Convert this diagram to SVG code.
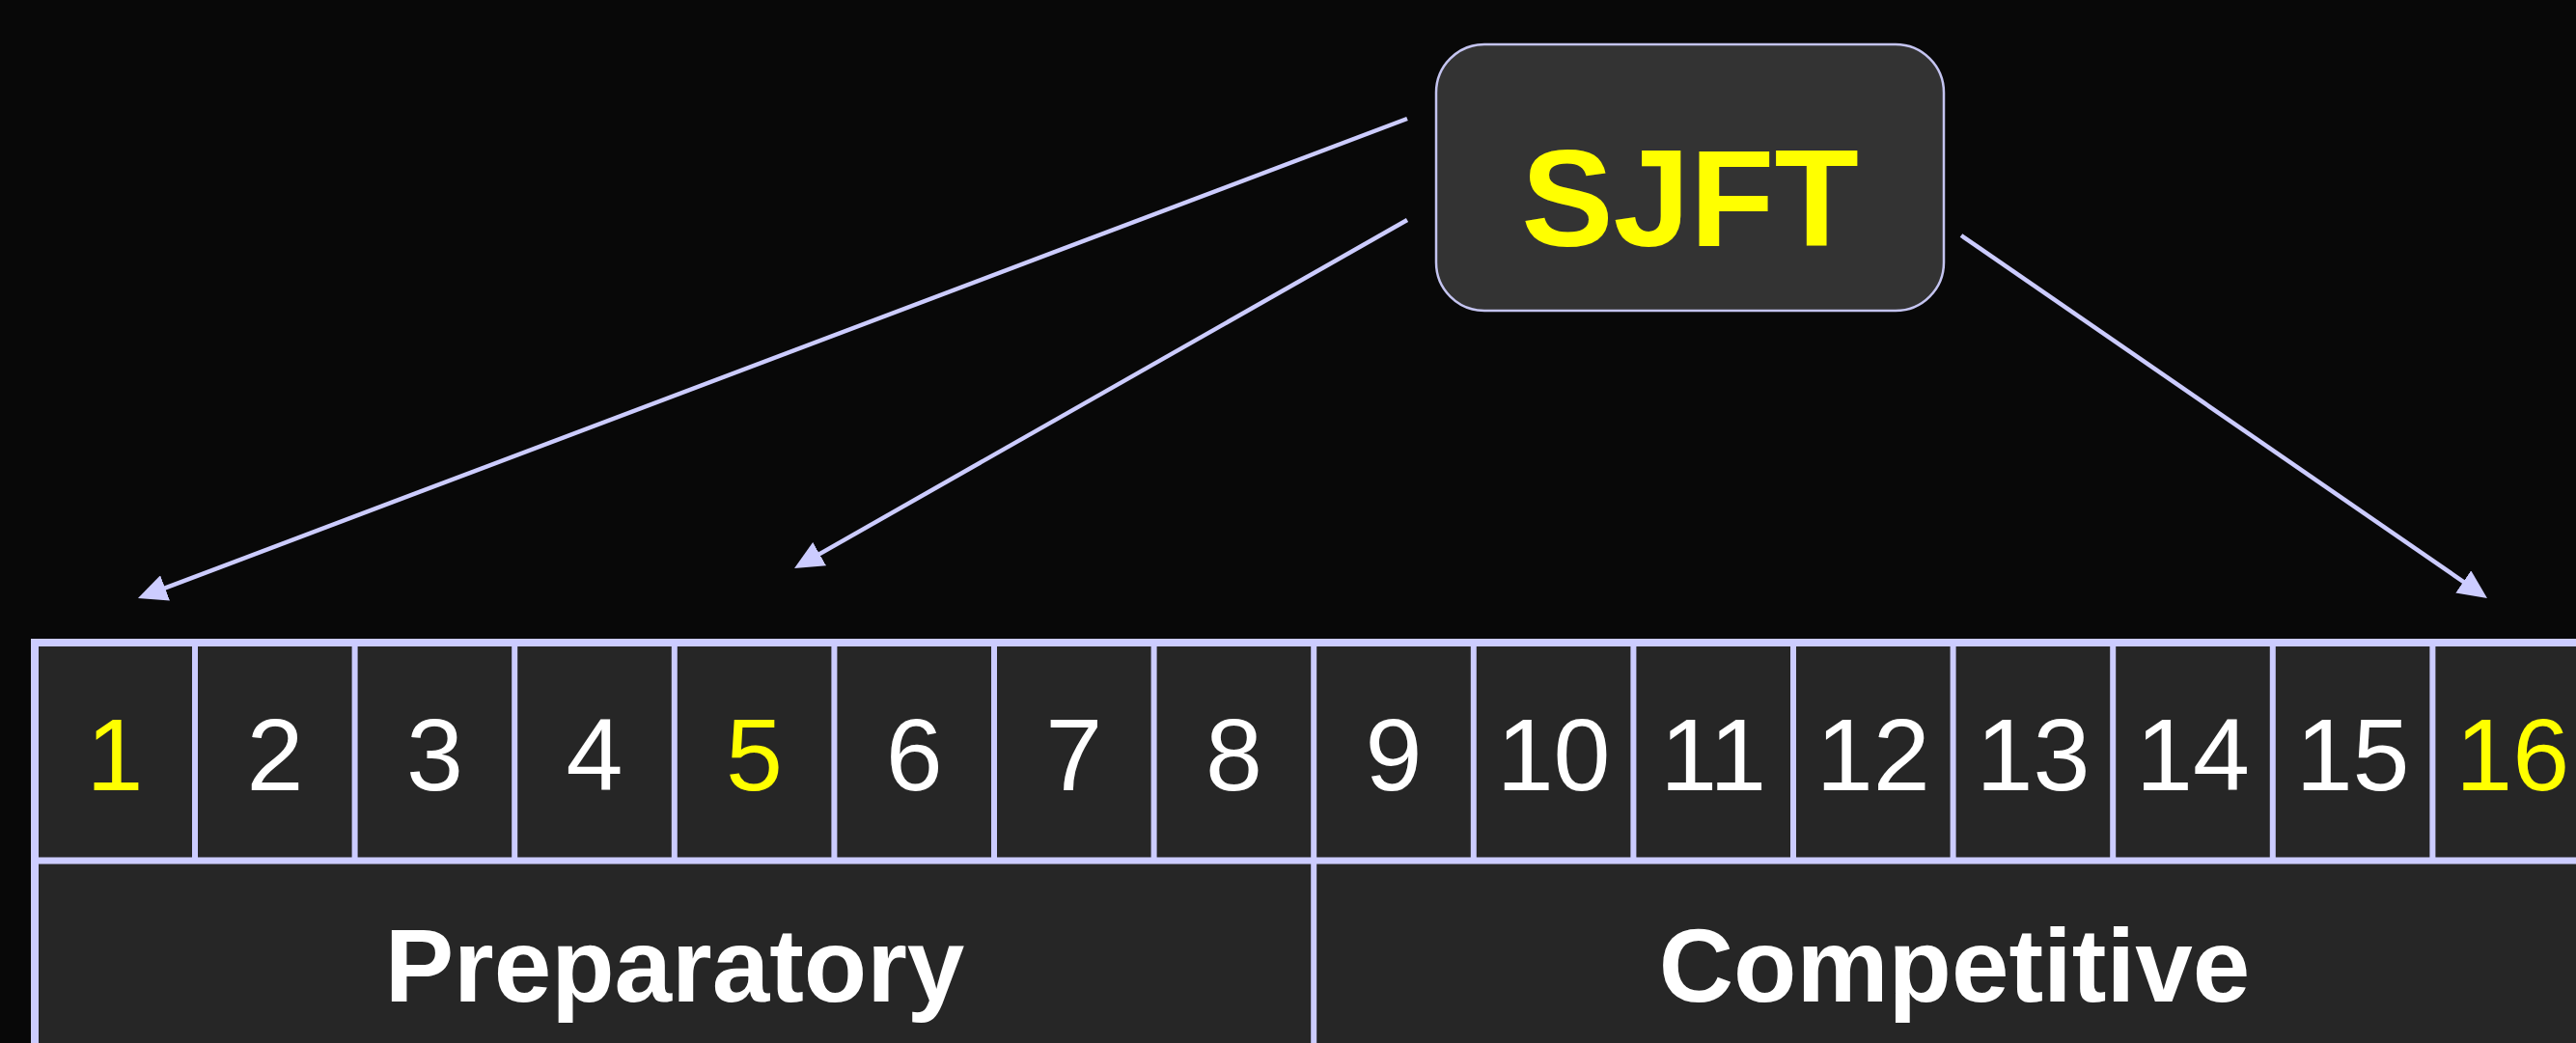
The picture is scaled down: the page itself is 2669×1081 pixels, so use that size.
<svg xmlns="http://www.w3.org/2000/svg" width="2669" height="1081" viewBox="0 0 2669 1081">
  <style>
    .num { font-family: "Liberation Sans", Arial, sans-serif; font-size: 106px; fill: #ffffff; text-anchor: middle; }
    .hl { fill: #ffff00; }
    .phase { font-family: "Liberation Sans", Arial, sans-serif; font-size: 107px; font-weight: bold; fill: #ffffff; text-anchor: middle; }
    .grid { stroke: #ccccff; fill: none; }
    .conn { stroke: #ccccff; stroke-width: 4.5; fill: none; marker-end: url(#arrow); }
  </style>
  <defs>
    <marker id="arrow" markerUnits="userSpaceOnUse" markerWidth="30" markerHeight="28" refX="9" refY="14" orient="auto">
      <path d="M0,0 L30,14 L0,28 z" fill="#ccccff"/>
    </marker>
  </defs>

  <rect x="0" y="0" width="2669" height="1081" fill="#080808"/>

  <!-- source node -->
  <g id="sjft">
    <rect x="1488" y="46" width="526" height="276" rx="50" ry="50" fill="#333333" stroke="#c4c4f0" stroke-width="2.5"/>
    <text x="1751" y="255" font-family="'Liberation Sans', Arial, sans-serif" font-size="143" font-weight="bold" fill="#ffff00" text-anchor="middle">SJFT</text>
  </g>

  <!-- microcycle table -->
  <g id="table">
    <rect x="32" y="662" width="2660" height="430" fill="#262626"/>
    <g class="grid">
      <line x1="32" y1="666" x2="2669" y2="666" stroke-width="8"/>
      <line x1="36" y1="662" x2="36" y2="1081" stroke-width="8"/>
      <line x1="32" y1="892" x2="2669" y2="892" stroke-width="7"/>
      <line x1="1361.2" y1="666" x2="1361.2" y2="1081" stroke-width="6"/>
      <g stroke-width="6">
        <line x1="202" y1="666" x2="202" y2="892"/>
        <line x1="367.6" y1="666" x2="367.6" y2="892"/>
        <line x1="533.2" y1="666" x2="533.2" y2="892"/>
        <line x1="698.8" y1="666" x2="698.8" y2="892"/>
        <line x1="864.4" y1="666" x2="864.4" y2="892"/>
        <line x1="1030" y1="666" x2="1030" y2="892"/>
        <line x1="1195.6" y1="666" x2="1195.6" y2="892"/>
        <line x1="1526.8" y1="666" x2="1526.8" y2="892"/>
        <line x1="1692.4" y1="666" x2="1692.4" y2="892"/>
        <line x1="1858" y1="666" x2="1858" y2="892"/>
        <line x1="2023.6" y1="666" x2="2023.6" y2="892"/>
        <line x1="2189.2" y1="666" x2="2189.2" y2="892"/>
        <line x1="2354.8" y1="666" x2="2354.8" y2="892"/>
        <line x1="2520.4" y1="666" x2="2520.4" y2="892"/>
      </g>
    </g>
    <g id="days">
      <text class="num hl" x="119" y="819">1</text>
      <text class="num" x="285" y="819">2</text>
      <text class="num" x="450.4" y="819">3</text>
      <text class="num" x="616" y="819">4</text>
      <text class="num hl" x="781.6" y="819">5</text>
      <text class="num" x="947.2" y="819">6</text>
      <text class="num" x="1112.8" y="819">7</text>
      <text class="num" x="1278.4" y="819">8</text>
      <text class="num" x="1444" y="819">9</text>
      <text class="num" x="1609.6" y="819">10</text>
      <text class="num" x="1775.2" y="819">11</text>
      <text class="num" x="1940.8" y="819">12</text>
      <text class="num" x="2106.4" y="819">13</text>
      <text class="num" x="2272" y="819">14</text>
      <text class="num" x="2437.6" y="819">15</text>
      <text class="num hl" x="2603.2" y="819">16</text>
    </g>
    <g id="phases">
      <text class="phase" x="699" y="1038">Preparatory</text>
      <text class="phase" x="2025" y="1038">Competitive</text>
    </g>
  </g>

  <!-- connectors from SJFT to test days -->
  <g id="connectors">
    <line class="conn" x1="1458" y1="123" x2="162.6" y2="612.6"/>
    <line class="conn" x1="1458" y1="228" x2="841.3" y2="578.6"/>
    <line class="conn" x1="2032" y1="244" x2="2559.7" y2="608"/>
  </g>
</svg>
